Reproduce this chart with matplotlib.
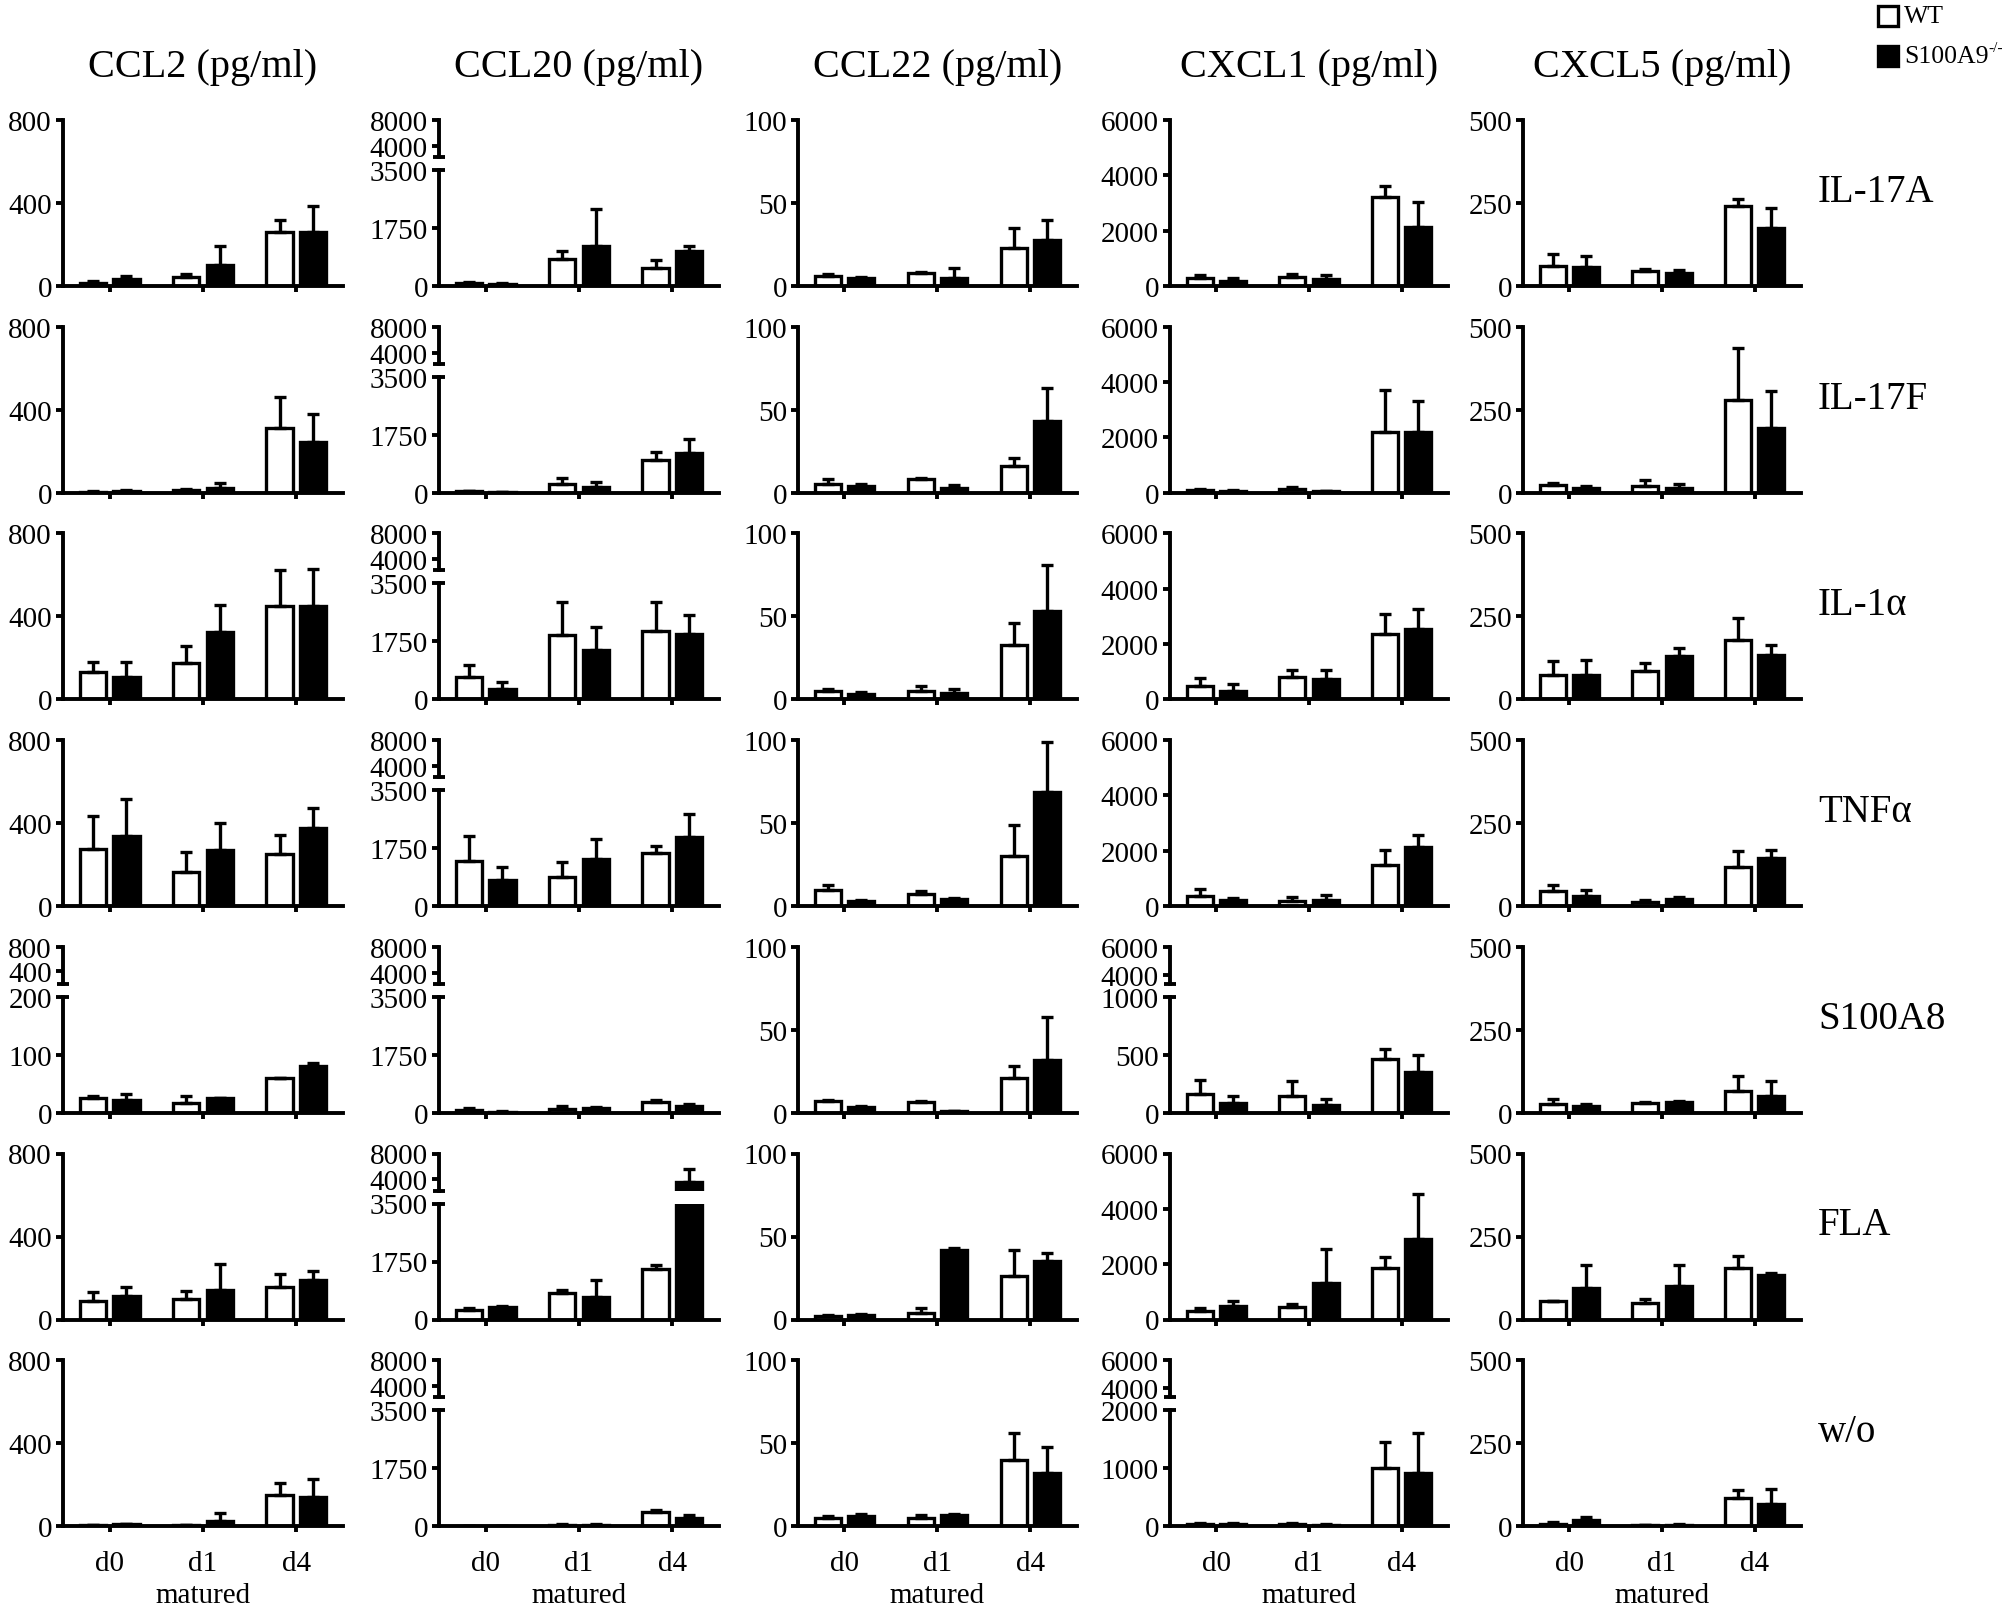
import numpy as np
import matplotlib.pyplot as plt
from matplotlib.patches import Rectangle

plt.rcParams['font.family'] = ['Liberation Serif', 'DejaVu Serif']

W, H = 2008, 1606

ROWS = ['IL-17A', 'IL-17F', 'IL-1α', 'TNFα', 'S100A8', 'FLA', 'w/o']
DAYS = ['d0', 'd1', 'd4']
TITLES = ['CCL2 (pg/ml)', 'CCL20 (pg/ml)', 'CCL22 (pg/ml)',
          'CXCL1 (pg/ml)', 'CXCL5 (pg/ml)']

# mean and SEM, one row per stimulus, columns d0 / d1 / d4
CCL2_WT = [[15, 45, 258], [5, 12, 310], [130, 175, 450], [275, 165, 251],
           [26, 17, 60], [91, 97, 158], [5, 5, 148]]
CCL2_WT_SEM = [[8, 15, 60], [5, 8, 150], [50, 80, 175], [157, 94, 90],
               [3, 12, 0], [42, 42, 60], [3, 3, 60]]
CCL2_KO = [[32, 102, 262], [8, 25, 245], [110, 325, 450], [336, 272, 376],
           [22, 26, 80], [115, 140, 188], [10, 25, 142]]
CCL2_KO_SEM = [[18, 92, 122], [4, 20, 135], [70, 130, 178], [179, 128, 99],
               [10, 0, 6], [43, 127, 48], [3, 40, 85]]

CCL20_WT = [[80, 800, 540], [40, 250, 1000], [690, 1950, 2050], [1366, 875, 1600],
            [80, 120, 330], [275, 790, 1535], [10, 40, 420]]
CCL20_WT_SEM = [[50, 250, 250], [20, 200, 240], [340, 980, 880], [760, 455, 225],
                [70, 100, 70], [80, 115, 115], [5, 20, 80]]
CCL20_KO = [[50, 1200, 1044], [20, 180, 1200], [300, 1480, 1980], [779, 1407, 2091],
            [30, 130, 200], [390, 668, 3550], [10, 40, 250]]
CCL20_KO_SEM = [[30, 1120, 150], [10, 150, 420], [230, 690, 570], [404, 608, 685],
                [20, 40, 60], [15, 512, 2050], [5, 20, 100]]

CCL22_WT = [[6, 8, 23], [5, 8, 16], [5, 5, 33], [10, 7, 30],
            [7, 6.5, 21], [2, 4, 26], [5, 5, 40]]
CCL22_WT_SEM = [[1, 0.5, 12], [3, 1, 5], [1, 3, 13], [3, 2, 19],
                [0.5, 0.5, 7], [0.5, 3, 16], [1, 1.5, 16]]
CCL22_KO = [[5, 5, 28], [4, 3, 43], [3.5, 4, 53], [3, 4.5, 69],
            [3.5, 1, 32], [3, 42, 35], [6, 7, 32]]
CCL22_KO_SEM = [[0.5, 6, 12], [1.5, 1.5, 20], [1, 2, 28], [0.5, 0.5, 30],
                [0.5, 0.2, 26], [0.5, 1, 5], [1.5, 0.5, 16]]

CXCL1_WT = [[279, 315, 3224], [80, 120, 2200], [500, 800, 2350], [383, 190, 1480],
            [164, 149, 466], [320, 454, 1860], [40, 30, 1000]]
CXCL1_WT_SEM = [[109, 121, 388], [40, 80, 1500], [270, 260, 740], [234, 130, 550],
                [115, 124, 86], [90, 90, 410], [20, 20, 444]]
CXCL1_KO = [[194, 242, 2121], [70, 50, 2200], [320, 740, 2540], [222, 231, 2120],
            [85, 69, 351], [500, 1318, 2910], [40, 20, 911]]
CXCL1_KO_SEM = [[85, 158, 921], [40, 20, 1100], [230, 320, 740], [62, 180, 460],
                [59, 52, 143], [180, 1230, 1640], [20, 10, 689]]

CXCL5_WT = [[60, 45, 240], [22, 20, 280], [75, 85, 180], [45, 12, 118],
            [28, 30, 65], [55, 50, 155], [8, 3, 85]]
CXCL5_WT_SEM = [[35, 7, 22], [8, 18, 155], [40, 25, 65], [20, 6, 47],
                [14, 2, 45], [2, 12, 35], [4, 2, 25]]
CXCL5_KO = [[58, 40, 175], [15, 15, 195], [75, 130, 135], [30, 22, 145],
            [20, 33, 50], [95, 100, 135], [18, 4, 68]]
CXCL5_KO_SEM = [[32, 8, 60], [5, 10, 110], [45, 25, 30], [20, 6, 25],
                [8, 2, 45], [70, 65, 5], [10, 2, 44]]

DATA = [
    (CCL2_WT, CCL2_WT_SEM, CCL2_KO, CCL2_KO_SEM),
    (CCL20_WT, CCL20_WT_SEM, CCL20_KO, CCL20_KO_SEM),
    (CCL22_WT, CCL22_WT_SEM, CCL22_KO, CCL22_KO_SEM),
    (CXCL1_WT, CXCL1_WT_SEM, CXCL1_KO, CXCL1_KO_SEM),
    (CXCL5_WT, CXCL5_WT_SEM, CXCL5_KO, CXCL5_KO_SEM),
]

# y axis ticks; broken panels get a lower range plus a short upper segment
Y_TICKS = [[0, 400, 800], [0, 1750, 3500], [0, 50, 100],
           [0, 2000, 4000, 6000], [0, 250, 500]]
LOWER_TICKS = {(0, 4): [0, 100, 200], (3, 4): [0, 500, 1000], (3, 6): [0, 1000, 2000]}
for r in range(7):
    LOWER_TICKS[(1, r)] = [0, 1750, 3500]
UPPER = {0: (200, [400, 800]), 1: (2300, [4000, 8000]), 3: (3330, [4000, 6000])}

# layout in pixels
PANEL_X = [63, 439, 798, 1170, 1523]
PANEL_W = [280, 280, 279, 278, 278]
ROW_TOP0, ROW_PITCH, PANEL_H = 121, 206.7, 166
UP_H, LOW_H = 37, 116

LW = 2.8
BAR_LW = 2.4
OFF, BW = 0.18, 0.28
TICK_FS = 21

fig = plt.figure(figsize=(W / 100, H / 100), dpi=100)


def add_ax(x, top, w, h):
    return fig.add_axes([x / W, 1 - (top + h) / H, w / W, h / H])


def style(ax, ticks, lim):
    ax.set_ylim(*lim)
    ax.set_yticks(ticks)
    ax.set_yticklabels([str(t) for t in ticks], fontsize=TICK_FS)
    ax.set_xlim(-0.5, 2.5)
    for s in ['top', 'right']:
        ax.spines[s].set_visible(False)
    for s in ['left', 'bottom']:
        ax.spines[s].set_linewidth(LW)
    ax.tick_params(axis='y', direction='out', length=5, width=LW, pad=3)
    ax.tick_params(axis='x', direction='out', length=4, width=LW, pad=13,
                   labelsize=TICK_FS)
    ax.set_xticks([0, 1, 2])
    ax.set_xticklabels([])
    ax.patch.set_alpha(0)


def draw_bars(ax, wt, wt_e, ko, ko_e, floor=None):
    x = np.arange(3)
    for off, m, e, fc in [(-OFF, wt, wt_e, 'white'), (OFF, ko, ko_e, 'black')]:
        m = np.asarray(m, float)
        e = np.asarray(e, float)
        keep = np.ones(3, bool) if floor is None else m > floor
        if not keep.any():
            continue
        ax.bar(x[keep] + off, m[keep], width=BW, color=fc, edgecolor='black',
               linewidth=BAR_LW, zorder=2)
        ax.errorbar(x[keep] + off, m[keep], yerr=[np.zeros(keep.sum()), e[keep]],
                    fmt='none', ecolor='black', elinewidth=BAR_LW, capsize=4.2,
                    capthick=BAR_LW, zorder=3)


for c in range(5):
    wt_all, wte_all, ko_all, koe_all = DATA[c]
    for r in range(7):
        top = ROW_TOP0 + r * ROW_PITCH
        wt, wte, ko, koe = wt_all[r], wte_all[r], ko_all[r], koe_all[r]
        if (c, r) in LOWER_TICKS:
            lt = LOWER_TICKS[(c, r)]
            ax = add_ax(PANEL_X[c], top + PANEL_H - LOW_H, PANEL_W[c], LOW_H)
            style(ax, lt, (lt[0], lt[-1]))
            ax.yaxis.remove_overlapping_locs = False
            ax.set_yticks([lt[-1]], minor=True)
            ax.tick_params(axis='y', which='minor', direction='in', length=4, width=LW)
            draw_bars(ax, wt, wte, ko, koe)

            low, ut = UPPER[c]
            ua = add_ax(PANEL_X[c], top, PANEL_W[c], UP_H)
            style(ua, ut, (low, ut[-1]))
            ua.spines['bottom'].set_visible(False)
            ua.tick_params(axis='x', bottom=False)
            ua.set_yticks([low], minor=True)
            ua.tick_params(axis='y', which='minor', direction='inout', length=9, width=LW)
            draw_bars(ua, wt, wte, ko, koe, floor=lt[-1])
        else:
            yt = Y_TICKS[c]
            ax = add_ax(PANEL_X[c], top, PANEL_W[c], PANEL_H)
            style(ax, yt, (yt[0], yt[-1]))
            draw_bars(ax, wt, wte, ko, koe)
        if r == 6:
            ax.set_xticklabels(DAYS, fontsize=TICK_FS)
            fig.text((PANEL_X[c] + PANEL_W[c] / 2) / W, 1 - 1596 / H, 'matured',
                     ha='center', va='center', fontsize=TICK_FS)
    fig.text((PANEL_X[c] + PANEL_W[c] / 2) / W, 1 - 77 / H, TITLES[c],
             ha='center', va='baseline', fontsize=29)

for r, name in enumerate(ROWS):
    y = ROW_TOP0 + r * ROW_PITCH + 0.43 * PANEL_H
    fig.text(1818 / W, 1 - y / H, name, ha='left', va='center', fontsize=28)

# legend
renderer = fig.canvas.get_renderer()
for y0, fc, label, sup in [(7, 'white', 'WT', ''), (47, 'black', 'S100A9', '-/-')]:
    fig.add_artist(Rectangle((1878 / W, 1 - (y0 + 20) / H), 20 / W, 20 / H,
                             transform=fig.transFigure, facecolor=fc,
                             edgecolor='black', linewidth=BAR_LW))
    t = fig.text(1904 / W, 1 - (y0 + 10) / H, label, ha='left', va='center',
                 fontsize=18.5)
    if sup:
        bb = t.get_window_extent(renderer)
        fig.text(bb.x1 / W, 1 - (y0 + 2) / H, sup, ha='left', va='center',
                 fontsize=11)

fig.savefig('out.png', dpi=100)
